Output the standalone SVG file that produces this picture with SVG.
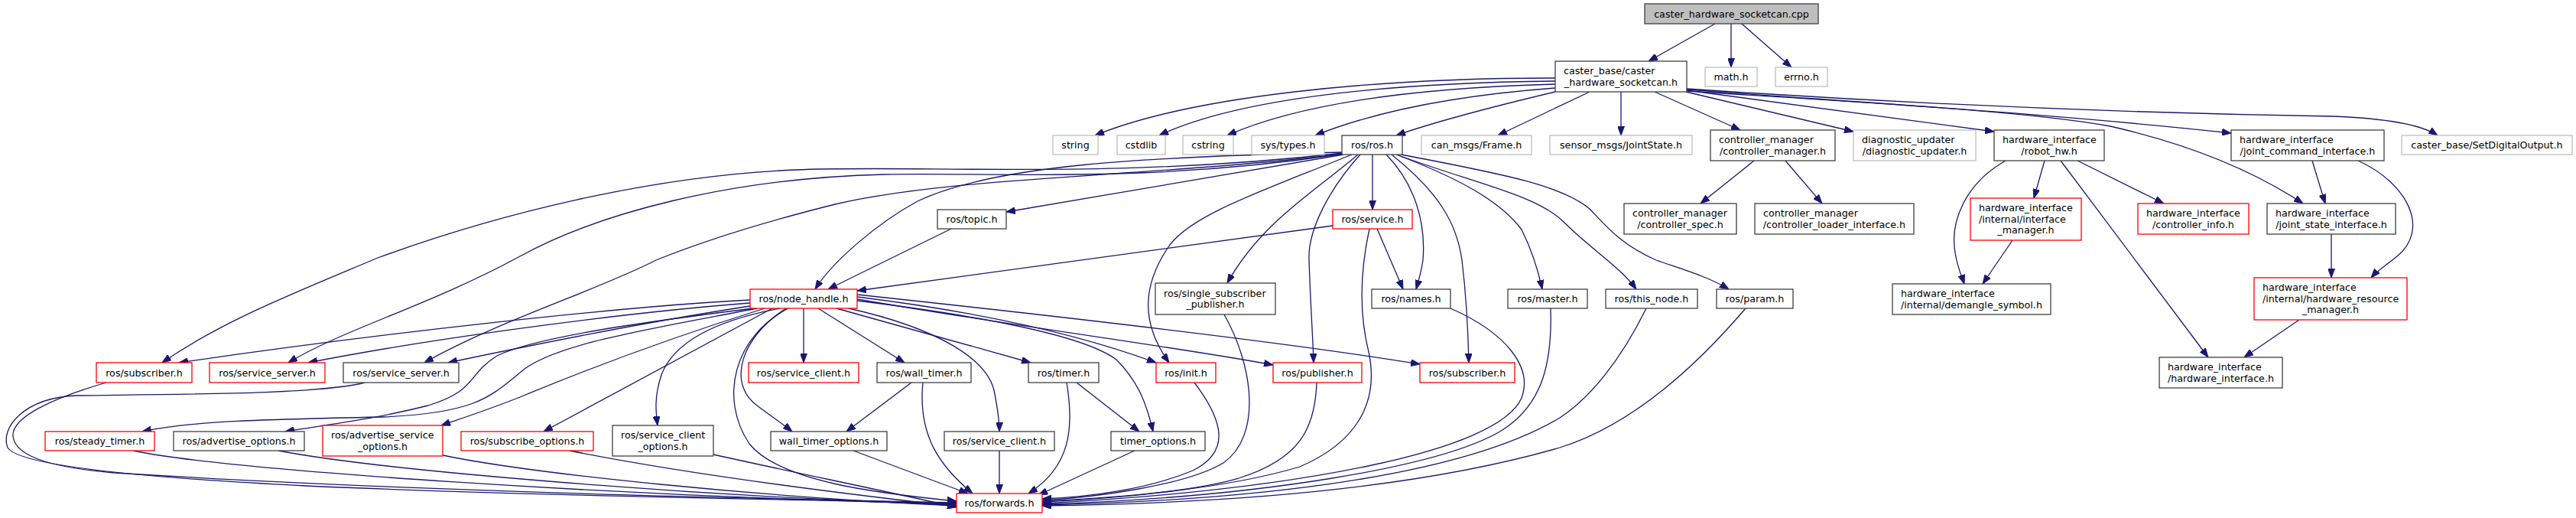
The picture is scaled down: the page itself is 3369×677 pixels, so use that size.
<svg xmlns="http://www.w3.org/2000/svg" width="3369" height="677" viewBox="0 0 3369 677">
<style>
text{font-family:"DejaVu Sans","Liberation Sans",sans-serif;font-size:12.7px;fill:#000}
.m{text-anchor:middle}
rect{fill:#fff;stroke-width:1.3}
.k rect{stroke:#404040}
.g rect{stroke:#bfbfbf}
.r rect{stroke:#ff0000}
.root rect{fill:#bfbfbf;stroke:#404040}
#edges path{fill:none;stroke:#191970;stroke-width:1.3;marker-end:url(#a)}
</style>
<defs>
<marker id="a" markerWidth="12" markerHeight="9" refX="12" refY="4.5" orient="auto" markerUnits="userSpaceOnUse"><path d="M0,0 L12,4.5 L0,9 z" fill="#191970" stroke="#191970" stroke-width="1"/></marker>
</defs>
<rect x="0" y="0" width="3369" height="677" style="fill:#fff;stroke:none"/>
<g id="edges">
<path d="M2243,31 L2156,80"/>
<path d="M2264,31 L2264,88"/>
<path d="M2278,31 L2343,88"/>
<path d="M2034,102 C1800,102 1560,125 1432,177"/>
<path d="M2034,106 C1820,108 1620,128 1516,177"/>
<path d="M2034,110 C1850,115 1700,135 1605,177"/>
<path d="M2034,115 C1900,125 1800,145 1720,177"/>
<path d="M2034,120 C1950,140 1880,158 1826,177"/>
<path d="M2079,120 L1959,177"/>
<path d="M2120,120 L2120,177"/>
<path d="M2164,120 L2276,170"/>
<path d="M2205,120 L2424,172"/>
<path d="M2206,118 L2608,172"/>
<path d="M2206,117 C2450,135 2700,150 2918,174"/>
<path d="M2206,119 C2450,135 2650,145 2760,165 C2870,190 2950,225 3012,266"/>
<path d="M2206,116 C2500,136 2800,148 3050,152 C3130,155 3170,165 3188,177"/>
<path d="M2294,210 L2224,266"/>
<path d="M2335,210 L2383,266"/>
<path d="M2674,210 L2660,259"/>
<path d="M2623,210 C2570,240 2550,290 2557,330 C2560,350 2566,362 2569,371"/>
<path d="M2632,314 L2593,371"/>
<path d="M2717,210 L2830,266"/>
<path d="M2695,210 L2888,467"/>
<path d="M3024,210 L3041,266"/>
<path d="M3084,210 C3150,240 3178,300 3135,335 C3120,347 3108,355 3101,363"/>
<path d="M3049,306 L3049,363"/>
<path d="M3007,418 L2935,467"/>
<path d="M1795,202 L1795,274"/>
<path d="M1757,202 C1600,230 1450,255 1316,277"/>
<path d="M1244,299 L1083,378"/>
<path d="M1743,295 L1121,380"/>
<path d="M1756,199 C1500,205 1300,215 1200,263 C1150,290 1090,340 1066,378"/>
<path d="M1756,200 C1450,235 1200,215 1040,222 C850,230 650,280 494,337 C380,385 290,420 212,474"/>
<path d="M1757,201 C1500,240 1300,225 1157,228 C950,233 780,280 680,335 C560,400 450,430 377,474"/>
<path d="M1758,201 C1500,232 1250,230 1092,267 C1000,290 920,315 858,340 C780,380 650,420 555,474"/>
<path d="M1768,202 C1650,250 1560,280 1530,320 C1495,370 1490,420 1529,474"/>
<path d="M1776,202 C1720,250 1650,290 1605,370"/>
<path d="M1779,202 C1740,245 1710,300 1712,340 C1714,400 1717,440 1718,474"/>
<path d="M1813,202 C1850,240 1865,290 1861,340 C1859,355 1855,368 1852,378"/>
<path d="M1801,299 L1835,378"/>
<path d="M1791,299 C1782,340 1775,400 1790,460 C1805,530 1770,580 1700,610 C1600,640 1450,652 1363,656"/>
<path d="M1820,202 C1880,250 1905,290 1912,340 C1918,390 1920,430 1921,474"/>
<path d="M1826,202 C1900,230 1960,260 1990,300 C2005,330 2012,355 2017,378"/>
<path d="M1829,203 C1930,240 2010,255 2045,290 C2080,325 2120,350 2140,378"/>
<path d="M1833,202 C1950,225 2040,240 2079,273 C2100,295 2120,320 2166,340 C2200,352 2235,362 2261,378"/>
<path d="M1051,403 L1051,474"/>
<path d="M1070,403 L1183,474"/>
<path d="M1094,403 L1348,474"/>
<path d="M1110,403 C1230,430 1290,470 1300,510 C1305,535 1307,550 1307,564"/>
<path d="M1121,388 C1300,410 1420,440 1512,474"/>
<path d="M1121,391 C1350,430 1550,455 1665,477"/>
<path d="M1121,385 C1400,415 1700,450 1857,476"/>
<path d="M1121,393 C1300,415 1420,440 1460,470 C1490,500 1500,530 1508,564"/>
<path d="M1031,403 C960,440 940,520 980,580 C1020,630 1150,645 1251,655"/>
<path d="M1028,403 C970,440 950,500 990,530 C1010,545 1025,555 1036,564"/>
<path d="M1020,403 C930,420 880,450 865,490 C855,520 858,540 860,556"/>
<path d="M1010,403 L711,564"/>
<path d="M981,392 C820,400 500,435 234,474"/>
<path d="M981,396 C800,410 550,445 403,474"/>
<path d="M981,400 C850,420 700,450 586,474"/>
<path d="M985,403 C850,420 700,440 650,465 C610,490 625,510 560,530 C480,550 420,556 373,564"/>
<path d="M990,403 C850,430 720,450 680,487 C640,520 620,540 500,545 C350,548 250,550 186,564"/>
<path d="M1000,403 C850,450 750,490 680,519 C640,535 600,548 577,556"/>
<path d="M1192,500 L1107,564"/>
<path d="M1408,500 L1490,564"/>
<path d="M1207,500 C1200,570 1230,610 1272,645"/>
<path d="M1116,589 L1266,645"/>
<path d="M1307,589 L1307,645"/>
<path d="M1395,500 C1405,560 1400,610 1345,645"/>
<path d="M1484,589 L1358,647"/>
<path d="M139,500 C70,520 15,545 17,570 C20,600 80,612 150,618 C500,640 900,650 1251,657"/>
<path d="M477,500 C420,515 250,515 100,517 C30,520 0,560 10,585 C25,610 200,625 400,635 C700,648 1000,652 1251,658"/>
<path d="M174,589 C300,615 800,648 1251,659"/>
<path d="M364,589 C500,615 900,648 1251,660"/>
<path d="M579,595 C700,620 1000,650 1251,661"/>
<path d="M745,589 C900,620 1100,645 1251,662"/>
<path d="M933,594 C1050,620 1150,640 1251,663"/>
<path d="M1562,500 C1600,550 1610,590 1560,615 C1500,640 1420,650 1363,652"/>
<path d="M1601,411 C1640,480 1650,570 1600,605 C1550,635 1430,650 1363,654"/>
<path d="M1722,500 C1720,560 1700,600 1620,625 C1550,645 1430,652 1363,655"/>
<path d="M1897,403 C1970,435 2005,480 1990,520 C1960,590 1700,640 1363,658"/>
<path d="M2028,403 C2030,470 2020,530 1960,565 C1880,610 1650,650 1363,659"/>
<path d="M2153,403 C2120,470 2080,520 2040,546 C1900,630 1600,655 1363,660"/>
<path d="M2283,403 C2200,500 2120,560 2040,585 C1850,640 1600,658 1363,661"/>
</g>
<g id="node-cpp" class="root"><rect x="2151" y="5" width="227" height="26"/><text class="m" x="2264.5" y="22.7">caster_hardware_socketcan.cpp</text></g>
<g id="node-cb" class="k"><rect x="2034" y="80" width="172" height="40"/><text x="2045" y="97">caster_base/caster</text><text class="m" x="2120" y="111.5">_hardware_socketcan.h</text></g>
<g id="node-math" class="g"><rect x="2230" y="88" width="68" height="25"/><text class="m" x="2264" y="105">math.h</text></g>
<g id="node-errno" class="g"><rect x="2322" y="88" width="68" height="25"/><text class="m" x="2356" y="105">errno.h</text></g>
<g id="node-string" class="g"><rect x="1377" y="177" width="59" height="25"/><text class="m" x="1406.5" y="194">string</text></g>
<g id="node-cstdlib" class="g"><rect x="1461" y="177" width="63" height="25"/><text class="m" x="1492.5" y="194">cstdlib</text></g>
<g id="node-cstring" class="g"><rect x="1547" y="177" width="66" height="25"/><text class="m" x="1580" y="194">cstring</text></g>
<g id="node-systypes" class="g"><rect x="1637" y="177" width="95" height="25"/><text class="m" x="1684.5" y="194">sys/types.h</text></g>
<g id="node-rosros" class="k"><rect x="1755" y="177" width="79" height="25"/><text class="m" x="1794.5" y="194">ros/ros.h</text></g>
<g id="node-frame" class="g"><rect x="1859" y="177" width="144" height="25"/><text class="m" x="1931" y="194">can_msgs/Frame.h</text></g>
<g id="node-jointstate" class="g"><rect x="2027" y="177" width="186" height="25"/><text class="m" x="2120" y="194">sensor_msgs/JointState.h</text></g>
<g id="node-cmgr" class="k"><rect x="2237" y="170" width="163" height="40"/><text x="2248" y="187">controller_manager</text><text class="m" x="2318.5" y="201.5">/controller_manager.h</text></g>
<g id="node-diag" class="g"><rect x="2424" y="170" width="160" height="40"/><text x="2435" y="187">diagnostic_updater</text><text class="m" x="2504" y="201.5">/diagnostic_updater.h</text></g>
<g id="node-robothw" class="k"><rect x="2608" y="170" width="144" height="40"/><text x="2619" y="187">hardware_interface</text><text class="m" x="2680" y="201.5">/robot_hw.h</text></g>
<g id="node-jci" class="k"><rect x="2918" y="170" width="200" height="40"/><text x="2929" y="187">hardware_interface</text><text class="m" x="3018" y="201.5">/joint_command_interface.h</text></g>
<g id="node-setdo" class="g"><rect x="3141" y="177" width="223" height="25"/><text class="m" x="3252.5" y="194">caster_base/SetDigitalOutput.h</text></g>
<g id="node-cspec" class="k"><rect x="2124" y="266" width="147" height="40"/><text x="2135" y="283">controller_manager</text><text class="m" x="2197.5" y="297.5">/controller_spec.h</text></g>
<g id="node-cli" class="k"><rect x="2295" y="266" width="208" height="40"/><text x="2306" y="283">controller_manager</text><text class="m" x="2399" y="297.5">/controller_loader_interface.h</text></g>
<g id="node-ifmgr" class="r"><rect x="2577" y="259" width="145" height="55"/><text x="2588" y="276">hardware_interface</text><text x="2588" y="290.5">/internal/interface</text><text class="m" x="2649.5" y="305">_manager.h</text></g>
<g id="node-cinfo" class="r"><rect x="2796" y="266" width="145" height="40"/><text x="2807" y="283">hardware_interface</text><text class="m" x="2868.5" y="297.5">/controller_info.h</text></g>
<g id="node-jsi" class="k"><rect x="2965" y="266" width="168" height="40"/><text x="2976" y="283">hardware_interface</text><text class="m" x="3049" y="297.5">/joint_state_interface.h</text></g>
<g id="node-topic" class="k"><rect x="1226" y="274" width="90" height="25"/><text class="m" x="1271" y="291">ros/topic.h</text></g>
<g id="node-service" class="r"><rect x="1743" y="274" width="104" height="25"/><text class="m" x="1795" y="291">ros/service.h</text></g>
<g id="node-nh" class="r"><rect x="981" y="378" width="140" height="25"/><text class="m" x="1051" y="395">ros/node_handle.h</text></g>
<g id="node-ssp" class="k"><rect x="1511" y="370" width="157" height="41"/><text x="1522" y="387.5">ros/single_subscriber</text><text class="m" x="1589.5" y="402">_publisher.h</text></g>
<g id="node-names" class="k"><rect x="1794" y="378" width="103" height="25"/><text class="m" x="1845.5" y="395">ros/names.h</text></g>
<g id="node-master" class="k"><rect x="1972" y="378" width="104" height="25"/><text class="m" x="2024" y="395">ros/master.h</text></g>
<g id="node-thisnode" class="k"><rect x="2100" y="378" width="120" height="25"/><text class="m" x="2160" y="395">ros/this_node.h</text></g>
<g id="node-param" class="k"><rect x="2245" y="378" width="100" height="25"/><text class="m" x="2295" y="395">ros/param.h</text></g>
<g id="node-demangle" class="k"><rect x="2475" y="371" width="207" height="40"/><text x="2486" y="388">hardware_interface</text><text class="m" x="2578.5" y="402.5">/internal/demangle_symbol.h</text></g>
<g id="node-hrm" class="r"><rect x="2948" y="363" width="200" height="55"/><text x="2959" y="380">hardware_interface</text><text x="2959" y="394.5">/internal/hardware_resource</text><text class="m" x="3048" y="409">_manager.h</text></g>
<g id="node-hwi" class="k"><rect x="2824" y="467" width="161" height="40"/><text x="2835" y="484">hardware_interface</text><text class="m" x="2904.5" y="498.5">/hardware_interface.h</text></g>
<g id="node-sub1" class="r"><rect x="126" y="474" width="125" height="26"/><text class="m" x="188.5" y="491.5">ros/subscriber.h</text></g>
<g id="node-ssr" class="r"><rect x="274" y="474" width="151" height="26"/><text class="m" x="349.5" y="491.5">ros/service_server.h</text></g>
<g id="node-ssb" class="k"><rect x="449" y="474" width="151" height="26"/><text class="m" x="524.5" y="491.5">ros/service_server.h</text></g>
<g id="node-scr" class="r"><rect x="979" y="474" width="144" height="26"/><text class="m" x="1051" y="491.5">ros/service_client.h</text></g>
<g id="node-wt" class="k"><rect x="1147" y="474" width="123" height="26"/><text class="m" x="1208.5" y="491.5">ros/wall_timer.h</text></g>
<g id="node-timer" class="k"><rect x="1345" y="474" width="92" height="26"/><text class="m" x="1391" y="491.5">ros/timer.h</text></g>
<g id="node-init" class="r"><rect x="1512" y="474" width="78" height="26"/><text class="m" x="1551" y="491.5">ros/init.h</text></g>
<g id="node-pub" class="r"><rect x="1665" y="474" width="116" height="26"/><text class="m" x="1723" y="491.5">ros/publisher.h</text></g>
<g id="node-sub2" class="r"><rect x="1857" y="474" width="124" height="26"/><text class="m" x="1919" y="491.5">ros/subscriber.h</text></g>
<g id="node-steady" class="r"><rect x="59" y="564" width="143" height="25"/><text class="m" x="130.5" y="581">ros/steady_timer.h</text></g>
<g id="node-advo" class="k"><rect x="227" y="564" width="171" height="25"/><text class="m" x="312.5" y="581">ros/advertise_options.h</text></g>
<g id="node-adso" class="r"><rect x="422" y="556" width="157" height="40"/><text x="433" y="573">ros/advertise_service</text><text class="m" x="500.5" y="587.5">_options.h</text></g>
<g id="node-subo" class="r"><rect x="603" y="564" width="173" height="25"/><text class="m" x="689.5" y="581">ros/subscribe_options.h</text></g>
<g id="node-sco" class="k"><rect x="801" y="556" width="132" height="40"/><text x="812" y="573">ros/service_client</text><text class="m" x="867" y="587.5">_options.h</text></g>
<g id="node-wto" class="k"><rect x="1008" y="564" width="152" height="25"/><text class="m" x="1084" y="581">wall_timer_options.h</text></g>
<g id="node-scb" class="k"><rect x="1235" y="564" width="144" height="25"/><text class="m" x="1307" y="581">ros/service_client.h</text></g>
<g id="node-to" class="k"><rect x="1453" y="564" width="123" height="25"/><text class="m" x="1514.5" y="581">timer_options.h</text></g>
<g id="node-fwd" class="r"><rect x="1251" y="645" width="112" height="25"/><text class="m" x="1307" y="662">ros/forwards.h</text></g>
</svg>
